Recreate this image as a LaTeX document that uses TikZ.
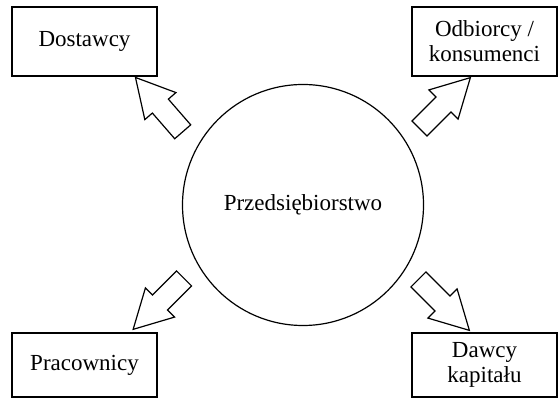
\documentclass[tikz,border=0pt]{standalone}
\usepackage{fontspec}
\setmainfont{Liberation Serif}
\usetikzlibrary{shapes.arrows}
\tikzset{
  partner/.style={draw, line width=0.6pt, minimum width=72.5pt, minimum height=34.5pt,
                  align=center, inner sep=2pt, font=\fontsize{11.5}{12.5}\selectfont},
  firm/.style   ={draw, circle, line width=0.6pt, minimum size=120.5pt, inner sep=0pt,
                  font=\fontsize{11.5}{12.5}\selectfont},
  flow/.style   ={draw, single arrow, line width=0.6pt, minimum width=20pt, minimum height=36pt,
                  single arrow head extend=5pt, single arrow tip angle=57, inner sep=5pt},
}
\begin{document}
\begin{tikzpicture}[x=0.5pt,y=0.5pt]
\useasboundingbox (0,0) rectangle (560,400);
\node[firm] (firma) at (303,195) {Przedsiębiorstwo};

\node[partner] (dost) at (84.5,358.5) {Dostawcy};
\node[partner] (odb) at (484.5,358.5) {Odbiorcy /\\ konsumenci};
\node[partner,minimum height=32pt] (prac) at (84.5,35) {Pracownicy};
\node[partner,minimum height=32pt] (dawcy) at (484.5,35) {Dawcy\\ kapitału};

% block arrows from the firm outwards
\node[flow,rotate=131] (f-dost) at (165.5,288) {};
\node[flow,rotate=45] (f-odb) at (438,290) {};
\node[flow,rotate=225] (f-prac) at (165.5,103) {};
\node[flow,rotate=315] (f-dawcy) at (437,102) {};
\end{tikzpicture}
\end{document}
